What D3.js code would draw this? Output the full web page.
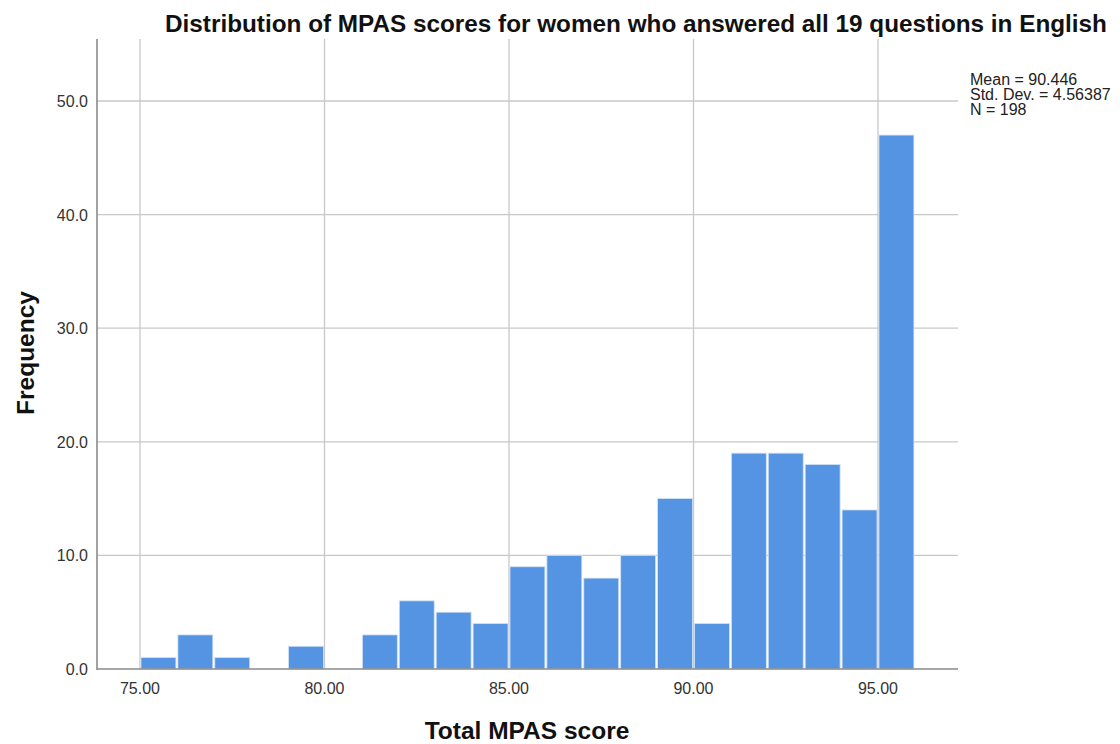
<!DOCTYPE html>
<html><head><meta charset="utf-8">
<script src="https://cdn.jsdelivr.net/npm/d3@7"></script>
<style>body{margin:0;background:#fff;} svg{display:block;}</style>
</head><body>
<svg id="c" width="1120" height="744"></svg>
<script>
const binStarts = [75,76,77,78,79,80,81,82,83,84,85,86,87,88,89,90,91,92,93,94,95];
const frequencies = [1,3,1,0,2,0,3,6,5,4,9,10,8,10,15,4,19,19,18,14,47];
const binWidth = 1;
const xTicks = [75,80,85,90,95];
const yTicks = [0,10,20,30,40,50];
const title = "Distribution of MPAS scores for women who answered all 19 questions in English";
const statLines = ["Mean = 90.446","Std. Dev. = 4.56387","N = 198"];

const svg = d3.select("#c");
const font = "'Liberation Sans', Arial, sans-serif";
const plotL = 97, plotR = 958, plotT = 39, plotB = 669;
const x = d3.scaleLinear().domain([75,95]).range([140,878]);
const y = d3.scaleLinear().domain([0,50]).range([669,101]);

// grid
svg.append("g").selectAll("line").data(yTicks.filter(d=>d>0)).join("line")
  .attr("x1",plotL).attr("x2",plotR).attr("y1",d=>y(d)).attr("y2",d=>y(d))
  .attr("stroke","#c8c8c8").attr("stroke-width",1.3);
svg.append("g").selectAll("line").data(xTicks).join("line")
  .attr("x1",d=>x(d)).attr("x2",d=>x(d)).attr("y1",plotT).attr("y2",plotB)
  .attr("stroke","#c8c8c8").attr("stroke-width",1.3);

// bars
svg.append("g").selectAll("rect").data(binStarts.map((s,i)=>({s,v:frequencies[i]})).filter(d=>d.v>0)).join("rect")
  .attr("x",d=>x(d.s)+1).attr("width",d=>x(d.s+binWidth)-x(d.s)-2)
  .attr("y",d=>y(d.v)).attr("height",d=>y(0)-y(d.v))
  .attr("fill","#5494e2").attr("stroke","#cfe0f6").attr("stroke-width",0.8);

// axes lines
svg.append("line").attr("x1",plotL).attr("x2",plotL).attr("y1",plotT).attr("y2",plotB+1)
  .attr("stroke","#8a8a8a").attr("stroke-width",1.6);
svg.append("line").attr("x1",plotL).attr("x2",plotR).attr("y1",plotB).attr("y2",plotB)
  .attr("stroke","#8a8a8a").attr("stroke-width",1.6);

// tick labels
svg.append("g").selectAll("text").data(yTicks).join("text")
  .attr("x",88).attr("y",d=>y(d)+6).attr("text-anchor","end")
  .attr("font-family",font).attr("font-size",16).attr("fill","#333")
  .text(d=>d3.format(".1f")(d));
svg.append("g").selectAll("text").data(xTicks).join("text")
  .attr("x",d=>x(d)).attr("y",694).attr("text-anchor","middle")
  .attr("font-family",font).attr("font-size",16).attr("fill","#333")
  .text(d=>d3.format(".2f")(d));

// titles
svg.append("text").attr("x",636).attr("y",32).attr("text-anchor","middle")
  .attr("font-family",font).attr("font-size",24.3).attr("font-weight","bold").attr("fill","#111")
  .text(title);
svg.append("text").attr("x",527).attr("y",739).attr("text-anchor","middle")
  .attr("font-family",font).attr("font-size",24.5).attr("font-weight","bold").attr("fill","#111")
  .text("Total MPAS score");
svg.append("text").attr("transform","translate(34,353) rotate(-90)").attr("text-anchor","middle")
  .attr("font-family",font).attr("font-size",24.5).attr("font-weight","bold").attr("fill","#111")
  .text("Frequency");

// stats
svg.append("g").selectAll("text").data(statLines).join("text")
  .attr("x",970).attr("y",(d,i)=>85+i*15).attr("font-family",font).attr("font-size",16).attr("fill","#222")
  .text(d=>d);
</script>
</body></html>
